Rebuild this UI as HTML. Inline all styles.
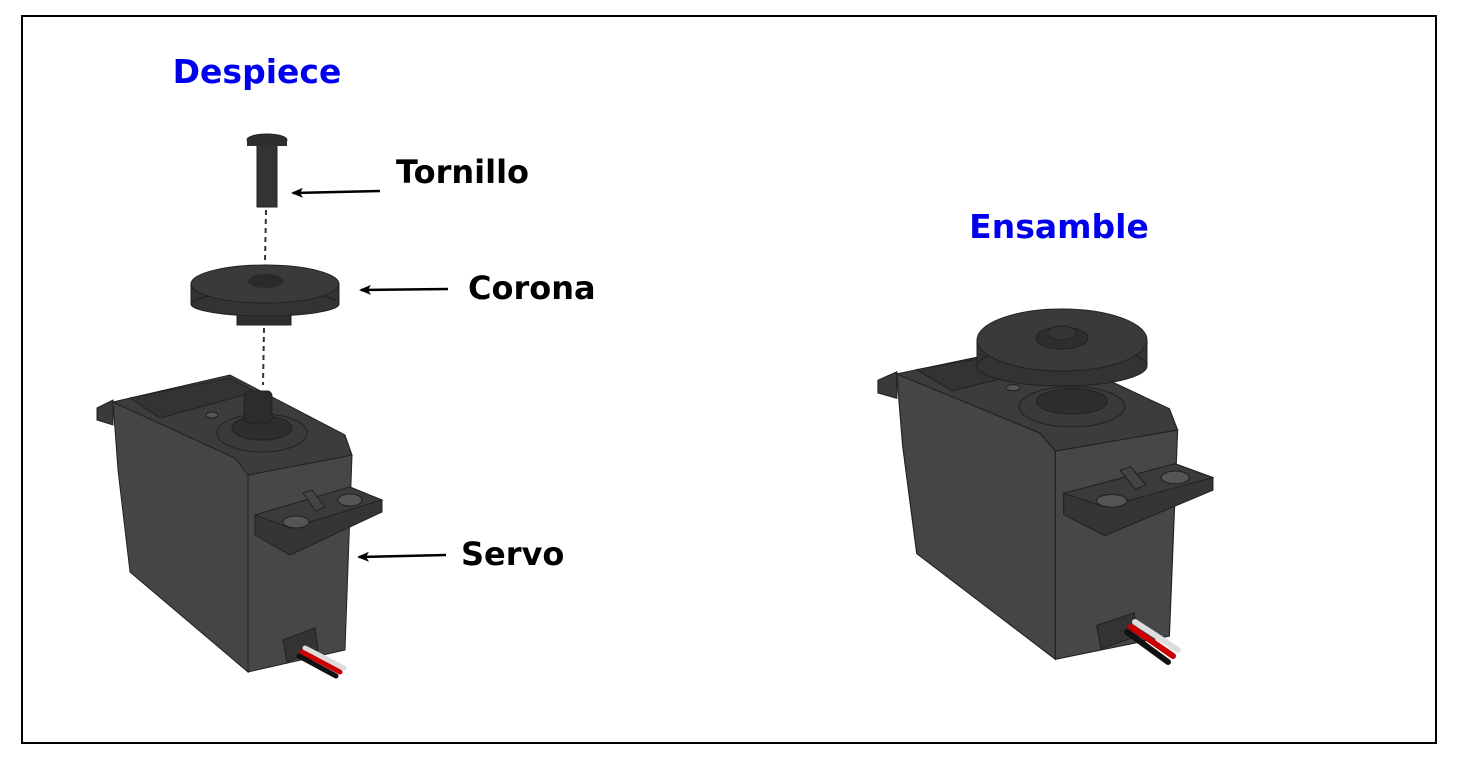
<!DOCTYPE html>
<html><head><meta charset="utf-8"><style>
body{margin:0;background:#fff;}
svg{display:block}
text{font-family:"DejaVu Sans","Liberation Sans",sans-serif;font-weight:bold}
</style></head><body>
<svg width="1464" height="762" viewBox="0 0 1464 762">
<defs>
<marker id="ah" markerWidth="12" markerHeight="10" refX="10" refY="5" orient="auto" markerUnits="userSpaceOnUse"><path d="M0,0 L12,5 L0,10 L3,5 Z" fill="#000"/></marker>
<g id="servo" stroke="#222" stroke-width="1">
  <polygon points="97,408 113,400 113,425 97,420" fill="#3a3a3a"/>
  <polygon points="113,402 235,458 248,475 248,672 130,572 118,470" fill="#454545"/>
  <polygon points="248,475 352,455 345,650 248,672" fill="#474747"/>
  <polygon points="113,402 230,375 345,435 352,455 248,475 235,458" fill="#3c3c3c"/>
  <polygon points="130,398 230,378 255,392 160,418" fill="#333"/>
  <ellipse cx="262" cy="433" rx="45" ry="19" fill="#3a3a3a"/>
  <ellipse cx="262" cy="428" rx="30" ry="12" fill="#2e2e2e"/>
  <ellipse cx="212" cy="415" rx="6" ry="3" fill="#555"/>
  <polygon points="255,515 350,487 382,500 382,512 290,555 255,535" fill="#353535"/>
  <polygon points="255,515 350,487 382,500 290,528" fill="#3b3b3b"/>
  <ellipse cx="296" cy="522" rx="13" ry="6" fill="#555"/>
  <ellipse cx="350" cy="500" rx="12" ry="6" fill="#555"/>
  <polygon points="303,493 312,490 325,507 316,511" fill="#444"/>
  <polygon points="283,640 315,628 318,650 287,662" fill="#333"/>
</g>
</defs>
<rect x="22" y="16" width="1414" height="727" fill="#fff" stroke="#000" stroke-width="2"/>
<text x="257" y="83" font-size="33" fill="#0000ee" text-anchor="middle">Despiece</text>
<text x="1059" y="238" font-size="33" fill="#0000ee" text-anchor="middle">Ensamble</text>
<text x="396" y="183" font-size="32" fill="#000">Tornillo</text>
<text x="468" y="299" font-size="32" fill="#000">Corona</text>
<text x="461" y="565" font-size="32" fill="#000">Servo</text>
<line x1="380" y1="191" x2="293" y2="193" stroke="#000" stroke-width="2.5" marker-end="url(#ah)"/>
<line x1="448" y1="289" x2="361" y2="290" stroke="#000" stroke-width="2.5" marker-end="url(#ah)"/>
<line x1="446" y1="555" x2="359" y2="557" stroke="#000" stroke-width="2.5" marker-end="url(#ah)"/>
<line x1="266" y1="210" x2="265" y2="262" stroke="#333" stroke-width="2" stroke-dasharray="5,4"/>
<line x1="264" y1="328" x2="263" y2="385" stroke="#333" stroke-width="2" stroke-dasharray="5,4"/>
<use href="#servo"/>
<g stroke-width="5" stroke-linecap="round"><line x1="305" y1="648" x2="344" y2="668" stroke="#ddd"/><line x1="302" y1="652" x2="340" y2="672" stroke="#c00"/><line x1="299" y1="656" x2="336" y2="676" stroke="#111"/></g>
<rect x="244" y="391" width="28" height="32" rx="5" fill="#2c2c2c" stroke="#222"/>
<rect x="257" y="145" width="20" height="62" fill="#333" stroke="#222"/>
<ellipse cx="267" cy="140" rx="20" ry="6" fill="#2e2e2e" stroke="#222"/>
<rect x="247" y="138" width="40" height="8" fill="#2e2e2e"/>
<rect x="237" y="305" width="54" height="20" fill="#2e2e2e" stroke="#222"/>
<rect x="191" y="284" width="148" height="20" fill="#333" stroke="#222"/>
<ellipse cx="265" cy="304" rx="74" ry="12" fill="#333" stroke="#222"/>
<ellipse cx="265" cy="284" rx="74" ry="19" fill="#3a3a3a" stroke="#222"/>
<ellipse cx="266" cy="281" rx="18" ry="7" fill="#2a2a2a"/>
<use href="#servo" transform="matrix(1.175,0,0,1.057,764,-51)"/>
<g stroke-width="6" stroke-linecap="round"><line x1="1135" y1="622" x2="1178" y2="650" stroke="#ddd"/><line x1="1131" y1="627" x2="1173" y2="656" stroke="#c00"/><line x1="1127" y1="632" x2="1168" y2="662" stroke="#111"/></g>
<rect x="977" y="340" width="170" height="26" fill="#333" stroke="#222"/>
<ellipse cx="1062" cy="366" rx="85" ry="20" fill="#333" stroke="#222"/>
<ellipse cx="1062" cy="340" rx="85" ry="31" fill="#3a3a3a" stroke="#222"/>
<ellipse cx="1062" cy="338" rx="26" ry="11" fill="#2e2e2e" stroke="#222"/>
<ellipse cx="1062" cy="333" rx="14" ry="7" fill="#353535" stroke="#222"/>
</svg>
</body></html>
